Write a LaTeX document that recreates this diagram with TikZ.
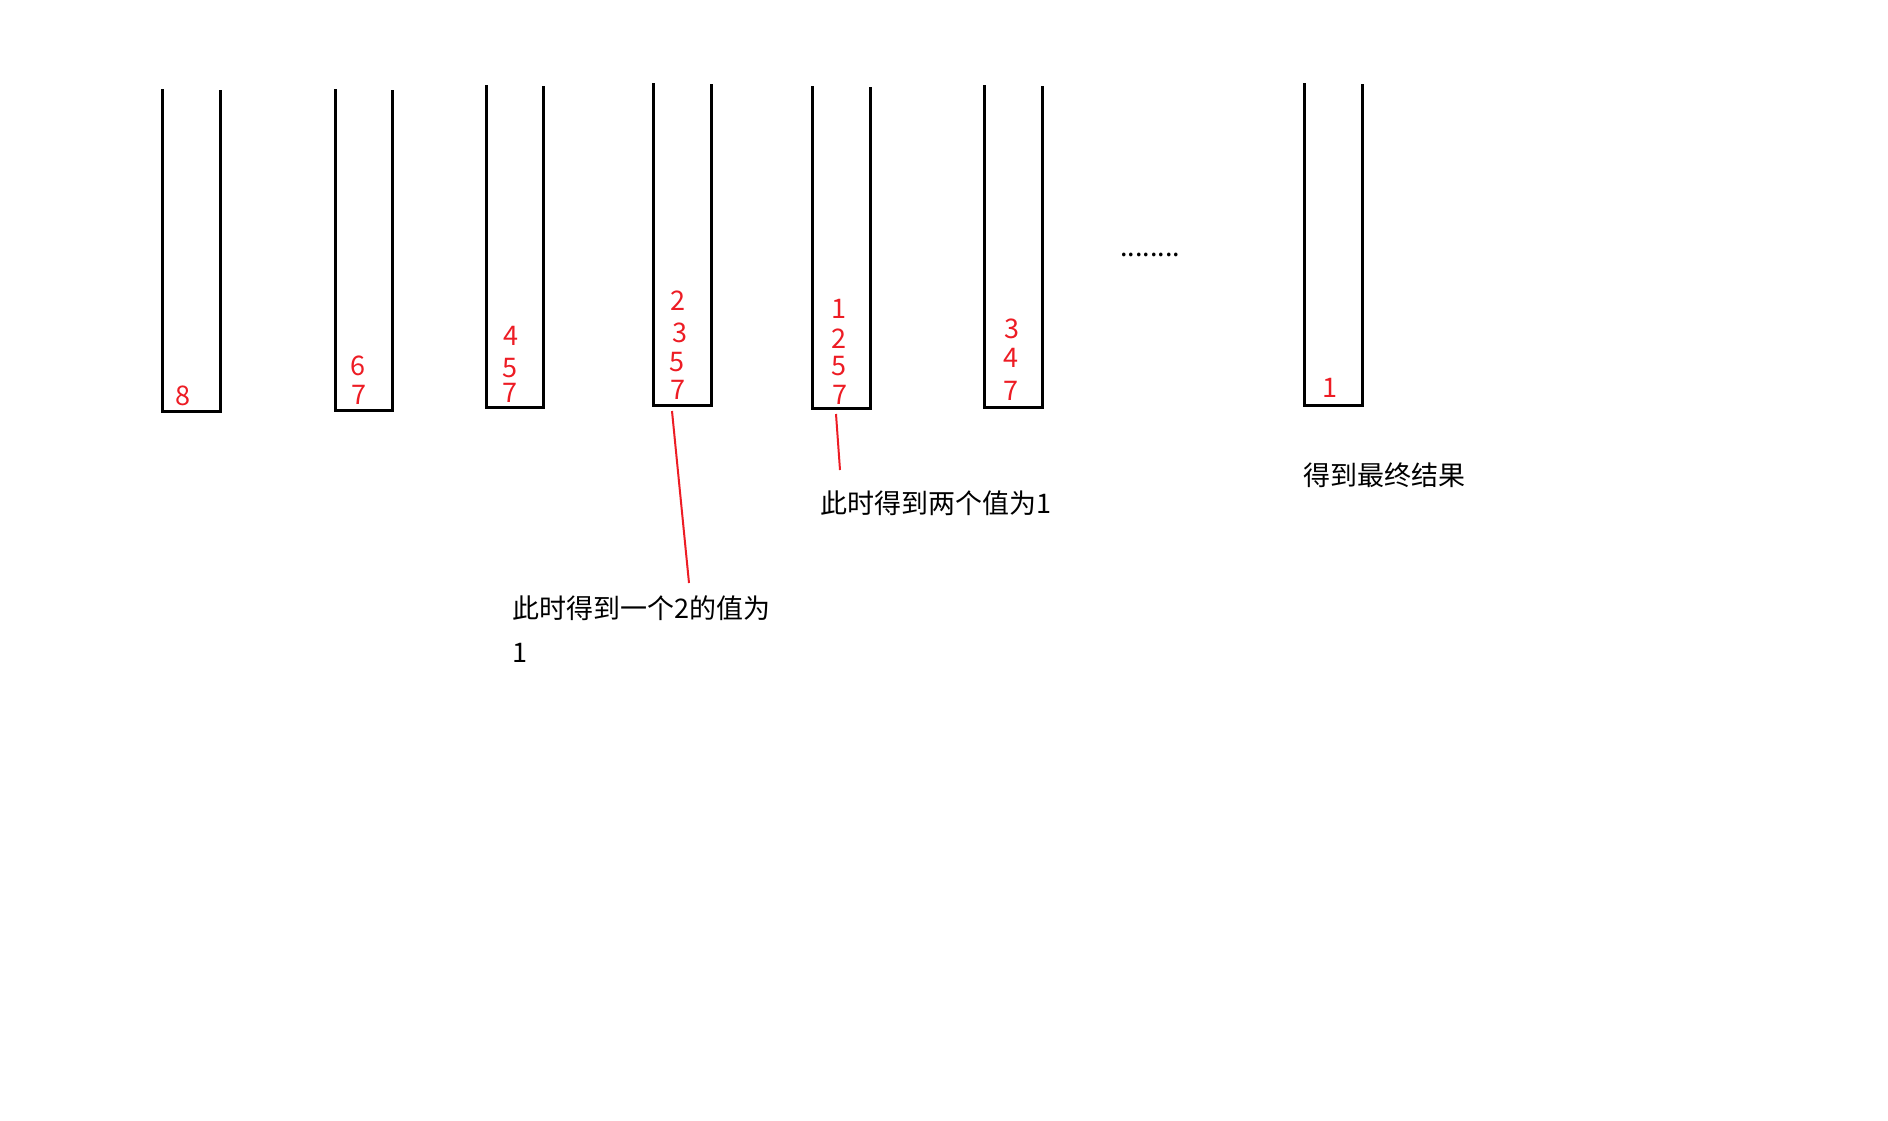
\documentclass[tikz,border=0pt]{standalone}
\usepackage{fontspec}
\setmainfont{Noto Sans CJK SC}
\definecolor{paintred}{RGB}{237,28,36}
\begin{document}
\begin{tikzpicture}[x=1pt,y=-1pt,
  stackbox/.style={draw=black,line width=3pt,line join=miter},
  num/.style={text=paintred,font=\fontsize{27}{29}\selectfont,inner sep=0pt,anchor=base},
  lbl/.style={text=black,font=\fontsize{27}{44}\selectfont,inner sep=0pt,anchor=base west,align=left},
  lead/.style={draw=paintred,line width=2pt}]
\fill[white] (0,0) rectangle (1888,1120);
\useasboundingbox (0,0) rectangle (1888,1120);
% stacks (open-top containers)
\draw[stackbox] (162,89) -- (162,411) -- (220,411) -- (220,90);
\draw[stackbox] (335,89) -- (335,410) -- (392,410) -- (392,90);
\draw[stackbox] (486,85) -- (486,407) -- (543,407) -- (543,86);
\draw[stackbox] (653,83) -- (653,405) -- (711,405) -- (711,84);
\draw[stackbox] (812,86) -- (812,408) -- (870,408) -- (870,87);
\draw[stackbox] (984,85) -- (984,407) -- (1042,407) -- (1042,86);
\draw[stackbox] (1304,83) -- (1304,405) -- (1362,405) -- (1362,84);
% stack contents
\node[num] (a1) at (183,405) {8};
\node[num] (b1) at (358,375) {6};
\node[num] (b2) at (359,404) {7};
\node[num] (c1) at (511,345) {4};
\node[num] (c2) at (510,377) {5};
\node[num] (c3) at (510,402) {7};
\node[num] (d1) at (678,310) {2};
\node[num] (d2) at (680,342) {3};
\node[num] (d3) at (677,371) {5};
\node[num] (d4) at (678,399) {7};
\node[num] (e1) at (839,318) {1};
\node[num] (e2) at (839,348) {2};
\node[num] (e3) at (839,375) {5};
\node[num] (e4) at (840,404) {7};
\node[num] (f1) at (1012,338) {3};
\node[num] (f2) at (1011,367) {4};
\node[num] (f3) at (1011,400) {7};
\node[num] (g1) at (1330,397) {1};
% dots
\node[lbl] (dots) at (1120,256) {........};
% labels
\node[lbl] (t1) at (512,662) {此时得到一个2的值为\\1};
\node[lbl] (t2) at (820,513) {此时得到两个值为1};
\node[lbl] (t3) at (1303,485) {得到最终结果};
% leader lines
\coordinate (s4b) at (672,411);
\coordinate (t1top) at (689,583);
\coordinate (s5b) at (836,414);
\coordinate (t2top) at (840,470);
\draw[lead] (s4b) -- (t1top);
\draw[lead] (s5b) -- (t2top);
\end{tikzpicture}
\end{document}
